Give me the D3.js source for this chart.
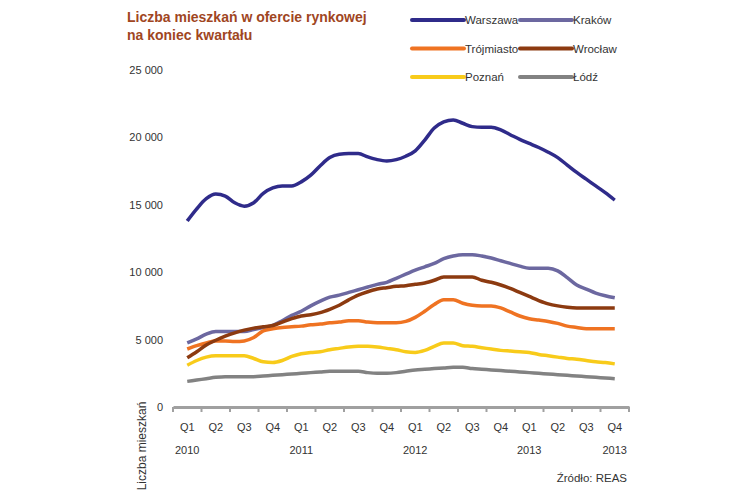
<!DOCTYPE html>
<html>
<head>
<meta charset="utf-8">
<script src="https://cdn.jsdelivr.net/npm/d3@7"></script>
<style>
  body { margin: 0; background: #fff; }
  text { font-family: "Liberation Sans", Arial, sans-serif; }
</style>
</head>
<body>
<script>
// quarters on the x axis
const quarters = [
  "2010Q1", "2010Q2", "2010Q3", "2010Q4",
  "2011Q1", "2011Q2", "2011Q3", "2011Q4",
  "2012Q1", "2012Q2", "2012Q3", "2012Q4",
  "2013Q1", "2013Q2", "2013Q3", "2013Q4"
];
// year labels under the quarter labels
const yearLabels = [
  { q: "2010Q1", label: "2010" },
  { q: "2011Q1", label: "2011" },
  { q: "2012Q1", label: "2012" },
  { q: "2013Q1", label: "2013" },
  { q: "2013Q4", label: "2013" }
];
const yTicks = [0, 5000, 10000, 15000, 20000, 25000];

// monthly readings, from Q1 2010 to Q4 2013
const warszawa = [13800, 14700, 15450, 15800, 15650, 15150, 14900, 15150, 15850, 16250, 16400, 16400,
  16700, 17200, 17900, 18500, 18750, 18800, 18800, 18550, 18350, 18250, 18350, 18600,
  19000, 19800, 20700, 21150, 21300, 21050, 20800, 20750, 20750, 20550, 20200, 19850,
  19550, 19250, 18900, 18500, 17950, 17400, 16900, 16400, 15900, 15350];
const krakow = [4750, 5050, 5400, 5600, 5600, 5600, 5600, 5750, 5900, 6050, 6400, 6800,
  7100, 7500, 7850, 8150, 8300, 8500, 8700, 8900, 9100, 9250, 9550, 9850,
  10150, 10400, 10650, 11000, 11200, 11300, 11300, 11200, 11050, 10850, 10650, 10450,
  10300, 10300, 10300, 10100, 9600, 9050, 8750, 8450, 8250, 8100];
const trojmiasto = [4300, 4550, 4750, 4900, 4900, 4850, 4900, 5150, 5650, 5800, 5900, 5950,
  6000, 6100, 6150, 6250, 6300, 6400, 6400, 6300, 6250, 6250, 6250, 6350,
  6650, 7100, 7600, 7950, 7950, 7700, 7550, 7500, 7500, 7350, 7050, 6750,
  6550, 6450, 6350, 6200, 6000, 5900, 5800, 5800, 5800, 5800];
const wroclaw = [3650, 4100, 4600, 4950, 5250, 5500, 5700, 5850, 5950, 6050, 6300, 6550,
  6750, 6850, 7000, 7250, 7550, 7950, 8300, 8550, 8750, 8850, 8950, 9000,
  9100, 9200, 9400, 9650, 9650, 9650, 9650, 9400, 9250, 9050, 8800, 8500,
  8200, 7900, 7650, 7500, 7400, 7350, 7350, 7350, 7350, 7350];
const poznan = [3100, 3450, 3700, 3800, 3800, 3800, 3800, 3600, 3350, 3300, 3450, 3750,
  3950, 4050, 4100, 4250, 4350, 4450, 4500, 4500, 4450, 4350, 4250, 4100,
  4050, 4200, 4500, 4750, 4750, 4550, 4500, 4400, 4300, 4200, 4150, 4100,
  4050, 3900, 3800, 3700, 3600, 3550, 3450, 3350, 3300, 3200];
const lodz = [1900, 2000, 2100, 2200, 2250, 2250, 2250, 2250, 2300, 2350, 2400, 2450,
  2500, 2550, 2600, 2650, 2650, 2650, 2650, 2550, 2500, 2500, 2550, 2650,
  2750, 2800, 2850, 2900, 2950, 2950, 2850, 2800, 2750, 2700, 2650, 2600,
  2550, 2500, 2450, 2400, 2350, 2300, 2250, 2200, 2150, 2100];

const seriesNames = ["Warszawa", "Kraków", "Trójmiasto", "Wrocław", "Poznań", "Łódź"];
const seriesValues = [warszawa, krakow, trojmiasto, wroclaw, poznan, lodz];
const seriesColors = ["#2f2b8a", "#6c68a0", "#ef7322", "#8c3a10", "#f8cb1a", "#828282"];

const width = 750, height = 500;

const svg = d3.select("body").append("svg")
  .attr("width", width)
  .attr("height", height);

// Scales
const x = d3.scaleBand()
  .domain(quarters)
  .range([173, 629]);

const xm = d3.scaleLinear()
  .domain([0, warszawa.length - 1])
  .range([x(quarters[0]) + x.bandwidth() / 2, x(quarters[quarters.length - 1]) + x.bandwidth() / 2]);

const y = d3.scaleLinear()
  .domain([0, 25000])
  .range([407, 70]);

// Y axis (labels only)
const fmt = v => d3.format(",")(v).replace(/,/g, " ");
svg.append("g")
  .attr("transform", "translate(173,0)")
  .call(d3.axisLeft(y).tickValues(yTicks).tickFormat(fmt).tickSize(0).tickPadding(10))
  .call(g => g.select(".domain").remove())
  .call(g => g.selectAll("text").attr("fill", "#333").style("font-size", "11px"));

// X axis
const xAxis = svg.append("g")
  .attr("transform", "translate(0,407)")
  .call(d3.axisBottom(x).tickSize(0).tickPadding(16).tickFormat(d => d.slice(4)));
xAxis.select(".domain").attr("stroke", "#a0a0a0").attr("stroke-width", 3);
xAxis.selectAll("text").attr("fill", "#333").style("font-size", "11px");

xAxis.selectAll("line.qtick")
  .data(quarters.map(q => x(q)).concat([x.range()[1]]))
  .join("line")
  .attr("class", "qtick")
  .attr("x1", d => d).attr("x2", d => d)
  .attr("y1", 0).attr("y2", 5)
  .attr("stroke", "#a0a0a0")
  .attr("stroke-width", 2);

svg.append("g")
  .selectAll("text")
  .data(yearLabels)
  .join("text")
  .attr("x", d => x(d.q) + x.bandwidth() / 2)
  .attr("y", 454)
  .attr("text-anchor", "middle")
  .attr("fill", "#333")
  .style("font-size", "11px")
  .text(d => d.label);

// Lines
const line = d3.line()
  .x((d, i) => xm(i))
  .y(d => y(d))
  .curve(d3.curveMonotoneX);

svg.append("g")
  .selectAll("path")
  .data(seriesValues)
  .join("path")
  .attr("fill", "none")
  .attr("stroke", (d, i) => seriesColors[i])
  .attr("stroke-width", 3.5)
  .attr("stroke-linejoin", "round")
  .attr("d", line);

// Title
const title = svg.append("text")
  .attr("x", 127)
  .attr("fill", "#a0461f")
  .style("font-size", "14px")
  .style("font-weight", "bold");
title.append("tspan").attr("x", 127).attr("y", 22).text("Liczba mieszkań w ofercie rynkowej");
title.append("tspan").attr("x", 127).attr("y", 40).text("na koniec kwartału");

// Legend
const legend = svg.append("g")
  .selectAll("g")
  .data(seriesNames)
  .join("g")
  .attr("transform", (d, i) => `translate(${i % 2 === 0 ? 412 : 520},${20 + Math.floor(i / 2) * 28.5})`);

legend.append("line")
  .attr("x1", 0).attr("x2", 52)
  .attr("stroke", (d, i) => seriesColors[i])
  .attr("stroke-width", 4)
  .attr("stroke-linecap", "round");

legend.append("text")
  .attr("x", 53)
  .attr("y", 4)
  .attr("fill", "#333")
  .style("font-size", "11.5px")
  .text(d => d);

// Y axis title
svg.append("text")
  .attr("transform", "translate(146,446) rotate(-90)")
  .attr("text-anchor", "middle")
  .attr("fill", "#333")
  .style("font-size", "12px")
  .text("Liczba mieszkań");

// Source
svg.append("text")
  .attr("x", 627)
  .attr("y", 482)
  .attr("text-anchor", "end")
  .attr("fill", "#333")
  .style("font-size", "11.5px")
  .text("Źródło: REAS");
</script>
</body>
</html>
